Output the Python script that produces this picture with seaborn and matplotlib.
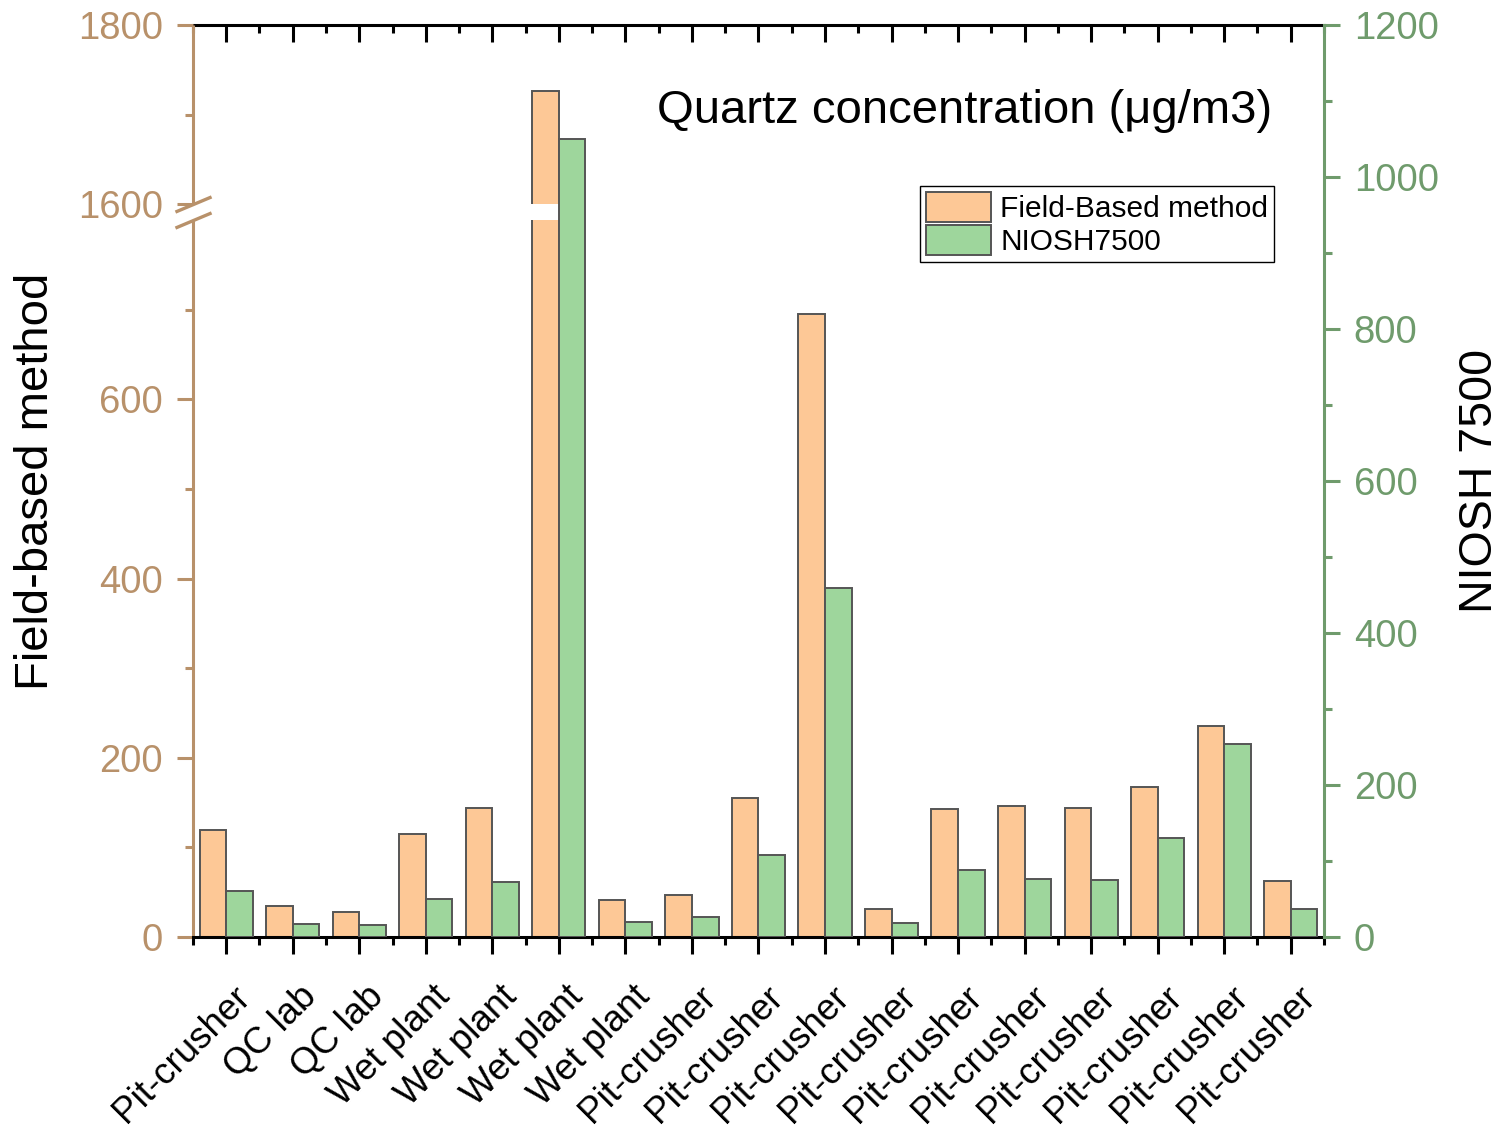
import numpy as np
import pandas as pd
import matplotlib
matplotlib.use("Agg")
import matplotlib.pyplot as plt
import matplotlib.transforms as mtransforms
import seaborn as sns
from matplotlib.ticker import FixedLocator, FixedFormatter, NullFormatter
from matplotlib.patches import Patch, Rectangle

# ---------------- data ----------------
locations = ["Pit-crusher", "QC lab", "QC lab", "Wet plant", "Wet plant", "Wet plant",
             "Wet plant", "Pit-crusher", "Pit-crusher", "Pit-crusher", "Pit-crusher",
             "Pit-crusher", "Pit-crusher", "Pit-crusher", "Pit-crusher", "Pit-crusher",
             "Pit-crusher"]
field_based = [119, 35, 28, 115, 144, 1726, 41, 47, 155, 695, 31, 143, 146, 144, 168, 236, 63]
niosh7500 = [60, 17, 16, 50, 72, 1050, 20, 26, 108, 459, 18, 88, 76, 75, 130, 254, 37]
series_names = ["Field-Based method", "NIOSH7500"]
left_major = [0, 200, 400, 600, 1600, 1800]
left_minor = [100, 300, 500, 700, 1700]
right_major = [0, 200, 400, 600, 800, 1000, 1200]
right_minor = [100, 300, 500, 700, 900, 1100]

# ---------------- style ----------------
sns.set_theme(style="white")
plt.rcParams["font.family"] = ["Liberation Sans", "DejaVu Sans"]
plt.rcParams["text.color"] = "black"
plt.rcParams["axes.labelcolor"] = "black"
plt.rcParams["xtick.color"] = "black"

TAN = "#b8916a"
GREEN = "#6f9b6c"
ORANGE = "#fdc896"
LGREEN = "#9ed69c"
EDGE = "#555555"
palette = {series_names[0]: ORANGE, series_names[1]: LGREEN}

idx = [str(i) for i in range(len(locations))]
df_field = pd.DataFrame({"idx": idx, "value": field_based, "method": series_names[0]})
df_niosh = pd.DataFrame({"idx": idx, "value": niosh7500, "method": series_names[1]})

fig = plt.figure(figsize=(15.04, 11.31), dpi=100)
ax = fig.add_axes([0.1283, 0.1715, 0.8803 - 0.1283, 0.9779 - 0.1715])
ax2 = ax.twinx()

sns.barplot(data=df_field, x="idx", y="value", hue="method", hue_order=series_names,
            order=idx, palette=palette, width=0.8, dodge=True, ax=ax, legend=False,
            edgecolor=EDGE, linewidth=1.4, saturation=1)
sns.barplot(data=df_niosh, x="idx", y="value", hue="method", hue_order=series_names,
            order=idx, palette=palette, width=0.8, dodge=True, ax=ax2, legend=False,
            edgecolor=EDGE, linewidth=1.4, saturation=1)

# broken left scale
B1, B2, G = 800.0, 1600.0, 18.0


def fwd(v):
    v = np.asarray(v, dtype=float)
    return np.where(v <= B1, v,
                    np.where(v >= B2, v - (B2 - B1) + G, B1 + (v - B1) * G / (B2 - B1)))


def inv(u):
    u = np.asarray(u, dtype=float)
    return np.where(u <= B1, u,
                    np.where(u >= B1 + G, u + (B2 - B1) - G, B1 + (u - B1) * (B2 - B1) / G))


ax.set_yscale("function", functions=(fwd, inv))
ax.set_ylim(0, 1800)
ax2.set_ylim(0, 1200)
ax.set_xlim(-0.5, len(locations) - 0.5)

# white gap through the bar that crosses the break
for p in list(ax.patches):
    if p.get_height() >= B2:
        ax.add_patch(Rectangle((p.get_x() - 0.02, B1), p.get_width() + 0.02, B2 - B1,
                               facecolor="white", edgecolor="none", zorder=p.get_zorder() + 1))

# left axis ticks
ax.yaxis.set_major_locator(FixedLocator(left_major))
ax.yaxis.set_major_formatter(FixedFormatter([str(v) for v in left_major]))
ax.yaxis.set_minor_locator(FixedLocator(left_minor))
ax.yaxis.set_minor_formatter(NullFormatter())
ax.tick_params(axis="y", which="major", left=True, direction="out", length=11.5, width=2.2,
               color=TAN, labelcolor=TAN, labelsize=27.5, pad=10)
ax.tick_params(axis="y", which="minor", left=True, direction="out", length=5.5, width=2.2,
               color=TAN)

# left spine drawn in two pieces + break marks
ax.spines["left"].set_visible(False)
ytr = ax.get_yaxis_transform()
ax.plot([0, 0], [0, B1], transform=ytr, color=TAN, lw=2.2, clip_on=False, solid_capstyle="butt")
ax.plot([0, 0], [B2, 1800], transform=ytr, color=TAN, lw=2.2, clip_on=False, solid_capstyle="butt")
ax.plot([0, 0], [B1, B2], transform=ytr, linestyle="none", marker=[(-1, -0.42), (1, 0.42)],
        markersize=26, markeredgecolor=TAN, markeredgewidth=2.4, clip_on=False)

# right axis
ax2.yaxis.set_major_locator(FixedLocator(right_major))
ax2.yaxis.set_minor_locator(FixedLocator(right_minor))
ax2.yaxis.set_minor_formatter(NullFormatter())
ax2.tick_params(axis="y", which="major", right=True, direction="out", length=11.5, width=2.2,
                color=GREEN, labelcolor=GREEN, labelsize=27.5, pad=10)
ax2.tick_params(axis="y", which="minor", right=True, direction="out", length=5.5, width=2.2,
                color=GREEN)
ax2.spines["right"].set_color(GREEN)
ax2.spines["right"].set_linewidth(2.2)
for s in ["left", "top", "bottom"]:
    ax2.spines[s].set_visible(False)

# bottom axis
ax.set_xticks(range(len(locations)))
ax.set_xticklabels(locations, rotation=45, ha="right", va="center", rotation_mode="anchor")
ax.xaxis.set_minor_locator(FixedLocator(np.arange(-0.5, len(locations), 1.0)))
ax.tick_params(axis="x", which="major", bottom=True, direction="out", length=12, width=2.2,
               color="black", labelcolor="black", labelsize=26.5, pad=10)
ax.tick_params(axis="x", which="minor", bottom=True, direction="out", length=6, width=2.2,
               color="black")
shift = mtransforms.ScaledTranslation(0.19, -0.24, fig.dpi_scale_trans)
for lbl in ax.get_xticklabels():
    lbl.set_transform(lbl.get_transform() + shift)
ax.spines["bottom"].set_color("black")
ax.spines["bottom"].set_linewidth(2.2)
ax.spines["right"].set_visible(False)
ax.spines["top"].set_visible(False)

# top axis with inward ticks
sec = ax.secondary_xaxis("top")
sec.set_xticks(range(len(locations)))
sec.xaxis.set_major_formatter(NullFormatter())
sec.xaxis.set_minor_locator(FixedLocator(np.arange(-0.5, len(locations), 1.0)))
sec.tick_params(axis="x", which="major", direction="in", length=12, width=2.2, color="black")
sec.tick_params(axis="x", which="minor", direction="in", length=6, width=2.2, color="black")
sec.spines["top"].set_color("black")
sec.spines["top"].set_linewidth(2.2)

ax.set_xlabel("")
ax2.set_xlabel("")
ax.set_ylabel("Field-based method", fontsize=34, color="black")
ax.yaxis.set_label_coords(-0.119, 0.5)
ax2.set_ylabel("NIOSH 7500", fontsize=33.5, color="black", labelpad=14)

ax.text(0.682, 0.906, "Quartz concentration (\u03bcg/m3)", transform=ax.transAxes,
        ha="center", va="center", fontsize=34, color="black")

handles = [Patch(facecolor=palette[n], edgecolor=EDGE, linewidth=1.4, label=n) for n in series_names]
leg = ax2.legend(handles=handles, loc="upper right", bbox_to_anchor=(0.956, 0.8235),
                 fontsize=21.5, frameon=True, fancybox=False, framealpha=1,
                 handlelength=2.2, handleheight=1.15, labelspacing=0.08, borderpad=0.2,
                 handletextpad=0.3, borderaxespad=0)
leg.get_frame().set_edgecolor("black")
leg.get_frame().set_linewidth(1.0)

fig.savefig("out.png", dpi=100)
